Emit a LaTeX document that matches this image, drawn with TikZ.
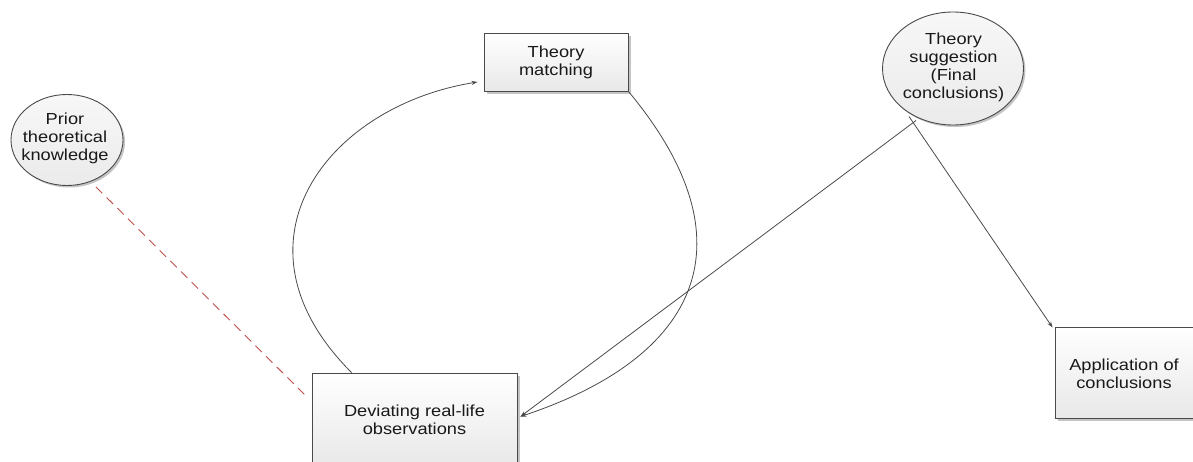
\documentclass[tikz,border=0pt]{standalone}
\usepackage{fontspec}
\setmainfont{Liberation Sans}[FakeStretch=1.14]
\usetikzlibrary{shadows,arrows.meta,calc,shapes.geometric}
\definecolor{edgecol}{HTML}{4A4A4A}
\definecolor{redline}{HTML}{C0504D}
\definecolor{shadcol}{HTML}{C4C4C4}
\tikzset{
 box/.style={draw=edgecol, line width=0.9pt, top color=white, bottom color=black!9,
   drop shadow={shadow xshift=3pt, shadow yshift=-3pt, fill=shadcol, opacity=1}},
 oval/.style={ellipse, draw=edgecol, line width=0.9pt, top color=black!3, bottom color=black!8, inner sep=0pt,
   drop shadow={shadow xshift=2pt, shadow yshift=-2pt, fill=shadcol, opacity=1}},
 txt/.style={align=center, font=\fontsize{16}{18}\selectfont, text=black!90, inner sep=0pt},
 conn/.style={draw=edgecol, line width=0.8pt},
 tip/.style={-{Stealth[length=6pt,width=4pt]}},
 relation/.style={draw=redline, dash pattern=on 9pt off 6pt, line width=0.9pt}
}
\begin{document}
\begin{tikzpicture}[x=1pt,y=-1pt]
\path[use as bounding box] (0,0) rectangle (1193,462);
\clip (0,0) rectangle (1193,462);
\fill[white] (0,0) rectangle (1193,462);
% nodes
\node[box, txt, minimum width=144pt, minimum height=58pt] (match) at (556,62) {Theory\\matching};
\node[box, txt, minimum width=205pt, minimum height=94pt] (dev) at (414.5,420) {Deviating real-life\\observations};
\node[box, minimum width=146pt, minimum height=91pt] (app) at (1128,372.5) {};
\node[txt] (apptxt) at (1124,374) {Application of\\conclusions};
\node[oval, minimum width=112pt, minimum height=91pt] (prior) at (67,140) {};
\node[txt] (priortxt) at (65,138) {Prior\\theoretical\\knowledge};
\node[oval, minimum width=141pt, minimum height=113pt] (sugg) at (953,68.5) {};
\node[txt] (suggtxt) at (953.5,67.5) {Theory\\suggestion\\(Final\\conclusions)};
% coordinates
\coordinate (devin) at ($(dev.north east)+(3,44)$);
\coordinate (s1) at ($(sugg.center)+(-37,52)$);
\coordinate (s2) at ($(sugg.center)+(-44,48)$);
\coordinate (devtop) at ($(dev.north west)+(40,0)$);
\coordinate (matchin) at ($(match.west)+(-6,20)$);
\coordinate (appin) at ($(app.north west)+(-2,1)$);
\coordinate (priorout) at ($(prior.south)+(29,1)$);
\coordinate (devleft) at ($(dev.north west)+(-3,26)$);
% connectors
\draw[conn,tip] (devtop) .. controls +(-130,-130) and +(-150,24) .. (matchin);
\draw[conn,tip] (match.south east) .. controls +(125,150) and +(180,-60) .. (devin);
\draw[conn,tip] (s1) -- (devin);
\draw[conn,tip] (s2) -- (appin);
\draw[relation] (priorout) -- (devleft);
\end{tikzpicture}
\end{document}
